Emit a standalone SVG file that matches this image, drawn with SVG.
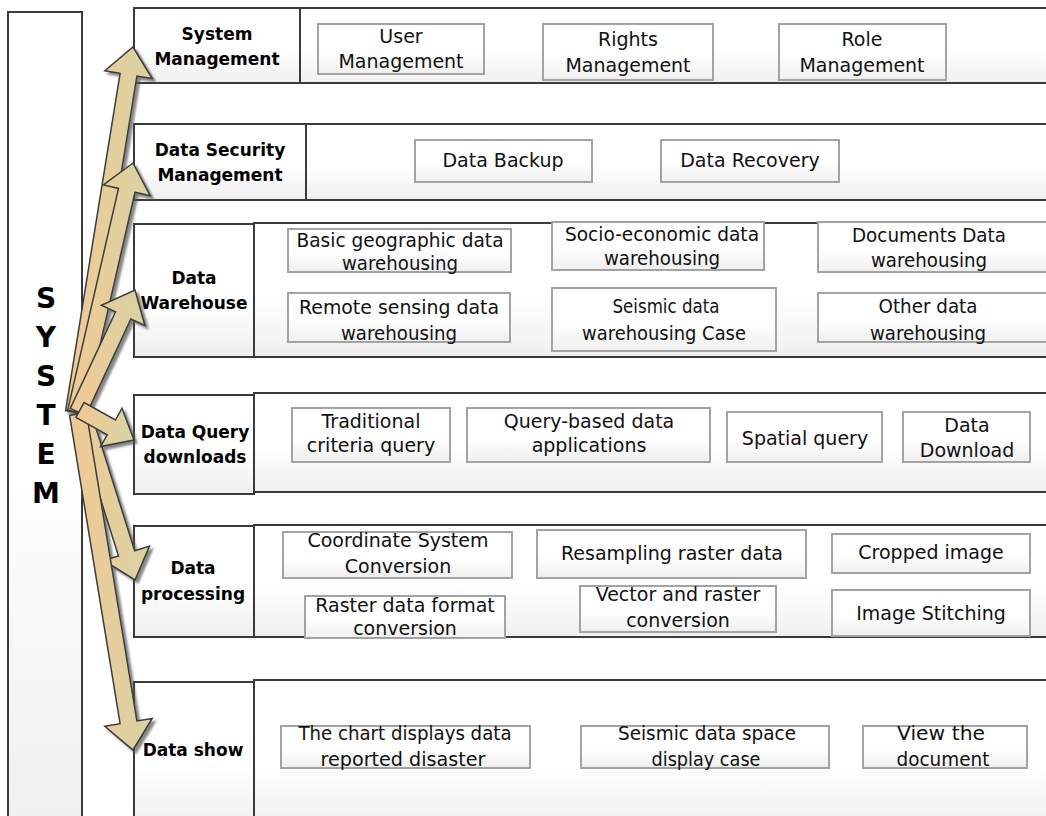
<svg xmlns="http://www.w3.org/2000/svg" width="1046" height="816" viewBox="0 0 1046 816">
<defs>
<linearGradient id="bg" x1="0" y1="0" x2="0" y2="1">
<stop offset="0" stop-color="#ffffff"/><stop offset="0.55" stop-color="#ffffff"/><stop offset="1" stop-color="#efefef"/>
</linearGradient>
<linearGradient id="ar" x1="0" y1="0" x2="1" y2="0">
<stop offset="0" stop-color="#f1c994"/><stop offset="1" stop-color="#d8d3a4"/>
</linearGradient>
<filter id="sh" x="-20%" y="-20%" width="140%" height="140%">
<feDropShadow dx="3" dy="3" stdDeviation="1" flood-color="#555" flood-opacity="0.7"/>
</filter>
</defs>
<style>
.row{fill:url(#bg);stroke:#3a3a3a;stroke-width:2}
.sub{fill:url(#bg);stroke:#a3a3a3;stroke-width:2}
.lbl{font-family:"DejaVu Sans",Verdana,sans-serif;font-weight:bold;font-size:17px;fill:#000;text-anchor:middle}
.t{font-family:"DejaVu Sans",Verdana,sans-serif;font-size:19px;fill:#111;text-anchor:middle}
.c{font-family:"DejaVu Sans",Verdana,sans-serif;font-size:20px;fill:#111;text-anchor:middle}
.sys{font-family:"DejaVu Sans",Verdana,sans-serif;font-weight:bold;font-size:28px;fill:#000;text-anchor:middle}
.arrow{fill:url(#ar);stroke:#3c3c3c;stroke-width:1.5;stroke-linejoin:miter}
</style>
<rect width="1046" height="816" fill="#fff"/>

<g id="system">
<rect class="row" x="8" y="12" width="74" height="820"/>
<text class="sys" x="46" y="308">S</text>
<text class="sys" x="46" y="347">Y</text>
<text class="sys" x="46" y="386">S</text>
<text class="sys" x="46" y="425">T</text>
<text class="sys" x="46" y="464">E</text>
<text class="sys" x="46" y="503">M</text>
</g>

<g id="system-management">
<rect class="row" x="300" y="8" width="750" height="75"/>
<rect class="row" x="134" y="8" width="166" height="75"/>
<text class="lbl" x="217" y="40">System</text>
<text class="lbl" x="217" y="65">Management</text>
</g>
<g id="user-management">
<rect class="sub" x="318" y="24" width="166" height="50"/>
<text class="t" x="401" y="43">User</text>
<text class="t" x="401" y="68">Management</text>
</g>
<g id="rights-management">
<rect class="sub" x="543" y="24" width="170" height="56"/>
<text class="t" x="628" y="46">Rights</text>
<text class="t" x="628" y="72">Management</text>
</g>
<g id="role-management">
<rect class="sub" x="779" y="24" width="167" height="56"/>
<text class="t" x="862" y="46">Role</text>
<text class="t" x="862" y="72">Management</text>
</g>

<g id="data-security-management">
<rect class="row" x="306" y="124" width="744" height="76"/>
<rect class="row" x="134" y="124" width="172" height="76"/>
<text class="lbl" x="220" y="156">Data Security</text>
<text class="lbl" x="220" y="181">Management</text>
</g>
<g id="data-backup">
<rect class="sub" x="415" y="140" width="177" height="42"/>
<text class="t" x="503" y="167">Data Backup</text>
</g>
<g id="data-recovery">
<rect class="sub" x="661" y="140" width="178" height="42"/>
<text class="t" x="750" y="167">Data Recovery</text>
</g>

<g id="data-warehouse">
<rect class="row" x="254" y="223" width="796" height="134"/>
<rect class="row" x="134" y="224" width="120" height="133"/>
<text class="lbl" x="194" y="284">Data</text>
<text class="lbl" x="194" y="309">Warehouse</text>
</g>
<g id="basic-geographic">
<rect class="sub" x="288" y="229" width="223" height="43"/>
<text class="c" x="400" y="247" textLength="207" lengthAdjust="spacingAndGlyphs">Basic geographic data</text>
<text class="c" x="400" y="270" textLength="116" lengthAdjust="spacingAndGlyphs">warehousing</text>
</g>
<g id="socio-economic">
<rect class="sub" x="552" y="222" width="212" height="48"/>
<text class="c" x="662" y="241" textLength="194" lengthAdjust="spacingAndGlyphs">Socio-economic data</text>
<text class="c" x="662" y="265" textLength="116" lengthAdjust="spacingAndGlyphs">warehousing</text>
</g>
<g id="documents-data">
<rect class="sub" x="818" y="222" width="230" height="50"/>
<text class="c" x="929" y="242" textLength="154" lengthAdjust="spacingAndGlyphs">Documents Data</text>
<text class="c" x="929" y="267" textLength="116" lengthAdjust="spacingAndGlyphs">warehousing</text>
</g>
<g id="remote-sensing">
<rect class="sub" x="288" y="293" width="222" height="49"/>
<text class="c" x="399" y="314" textLength="200" lengthAdjust="spacingAndGlyphs">Remote sensing data</text>
<text class="c" x="399" y="340" textLength="116" lengthAdjust="spacingAndGlyphs">warehousing</text>
</g>
<g id="seismic-warehousing">
<rect class="sub" x="552" y="288" width="224" height="63"/>
<text class="c" x="666" y="313" textLength="107" lengthAdjust="spacingAndGlyphs">Seismic data</text>
<text class="c" x="664" y="340" textLength="164" lengthAdjust="spacingAndGlyphs">warehousing Case</text>
</g>
<g id="other-data">
<rect class="sub" x="818" y="293" width="230" height="49"/>
<text class="c" x="928" y="313" textLength="99" lengthAdjust="spacingAndGlyphs">Other data</text>
<text class="c" x="928" y="340" textLength="116" lengthAdjust="spacingAndGlyphs">warehousing</text>
</g>

<g id="data-query-downloads">
<rect class="row" x="254" y="393" width="796" height="99"/>
<rect class="row" x="134" y="395" width="120" height="99"/>
<text class="lbl" x="195" y="438">Data Query</text>
<text class="lbl" x="195" y="463">downloads</text>
</g>
<g id="traditional-query">
<rect class="sub" x="292" y="408" width="158" height="54"/>
<text class="t" x="371" y="428">Traditional</text>
<text class="t" x="371" y="452">criteria query</text>
</g>
<g id="query-based">
<rect class="sub" x="467" y="408" width="243" height="54"/>
<text class="t" x="589" y="428">Query-based data</text>
<text class="t" x="589" y="452">applications</text>
</g>
<g id="spatial-query">
<rect class="sub" x="727" y="412" width="155" height="50"/>
<text class="t" x="805" y="445">Spatial query</text>
</g>
<g id="data-download">
<rect class="sub" x="903" y="412" width="127" height="50"/>
<text class="t" x="967" y="432">Data</text>
<text class="t" x="967" y="457">Download</text>
</g>

<g id="data-processing">
<rect class="row" x="254" y="525" width="796" height="112"/>
<rect class="row" x="134" y="526" width="120" height="111"/>
<text class="lbl" x="193" y="574">Data</text>
<text class="lbl" x="193" y="600">processing</text>
</g>
<g id="coordinate-conversion">
<rect class="sub" x="283" y="532" width="229" height="46"/>
<text class="t" x="398" y="547">Coordinate System</text>
<text class="t" x="398" y="573">Conversion</text>
</g>
<g id="resampling">
<rect class="sub" x="537" y="530" width="269" height="48"/>
<text class="t" x="672" y="560">Resampling raster data</text>
</g>
<g id="cropped-image">
<rect class="sub" x="832" y="534" width="198" height="39"/>
<text class="t" x="931" y="559">Cropped image</text>
</g>
<g id="raster-format">
<rect class="sub" x="305" y="596" width="200" height="42"/>
<text class="t" x="405" y="612">Raster data format</text>
<text class="t" x="405" y="635">conversion</text>
</g>
<g id="vector-raster">
<rect class="sub" x="580" y="586" width="196" height="46"/>
<text class="t" x="678" y="601">Vector and raster</text>
<text class="t" x="678" y="627">conversion</text>
</g>
<g id="image-stitching">
<rect class="sub" x="832" y="590" width="198" height="46"/>
<text class="t" x="931" y="620">Image Stitching</text>
</g>

<g id="data-show">
<rect class="row" x="254" y="680" width="796" height="150"/>
<rect class="row" x="134" y="682" width="120" height="148"/>
<text class="lbl" x="193" y="756">Data show</text>
</g>
<g id="chart-display">
<rect class="sub" x="281" y="726" width="249" height="42"/>
<text class="c" x="405" y="740" textLength="213" lengthAdjust="spacingAndGlyphs">The chart displays data</text>
<text class="c" x="403" y="766" textLength="165" lengthAdjust="spacingAndGlyphs">reported disaster</text>
</g>
<g id="seismic-display">
<rect class="sub" x="581" y="726" width="248" height="42"/>
<text class="c" x="707" y="740" textLength="178" lengthAdjust="spacingAndGlyphs">Seismic data space</text>
<text class="c" x="706" y="766" textLength="109" lengthAdjust="spacingAndGlyphs">display case</text>
</g>
<g id="view-document">
<rect class="sub" x="863" y="726" width="164" height="42"/>
<text class="c" x="941" y="740" textLength="88" lengthAdjust="spacingAndGlyphs">View the</text>
<text class="c" x="943" y="766" textLength="93" lengthAdjust="spacingAndGlyphs">document</text>
</g>

<g id="connectors" filter="url(#sh)">
<polygon class="arrow" points="82.4,413.4 136.9,76.0 152.2,78.5 133,47 104.8,70.8 120.1,73.3 65.6,410.6"/>
<polygon class="arrow" points="84.3,413.9 135.0,192.2 150.2,195.7 133,163 103.4,184.9 118.5,188.4 67.7,410.1"/>
<polygon class="arrow" points="85.7,415.6 130.9,319.0 144.9,325.5 135,290 101.4,305.2 115.5,311.8 70.3,408.4"/>
<polygon class="arrow" points="73.9,414.6 118.5,555.9 103.7,560.5 135,580 149.5,546.1 134.7,550.7 90.1,409.4"/>
<polygon class="arrow" points="69.6,415.4 120.1,723.7 104.8,726.3 133,750 152.2,718.5 136.9,721.0 86.4,412.6"/>
<polygon class="arrow" points="75.9,417.4 107.2,434.8 100.6,446.6 134,440 122.0,408.2 115.4,420.0 84.1,402.6"/>
</g>
</svg>
